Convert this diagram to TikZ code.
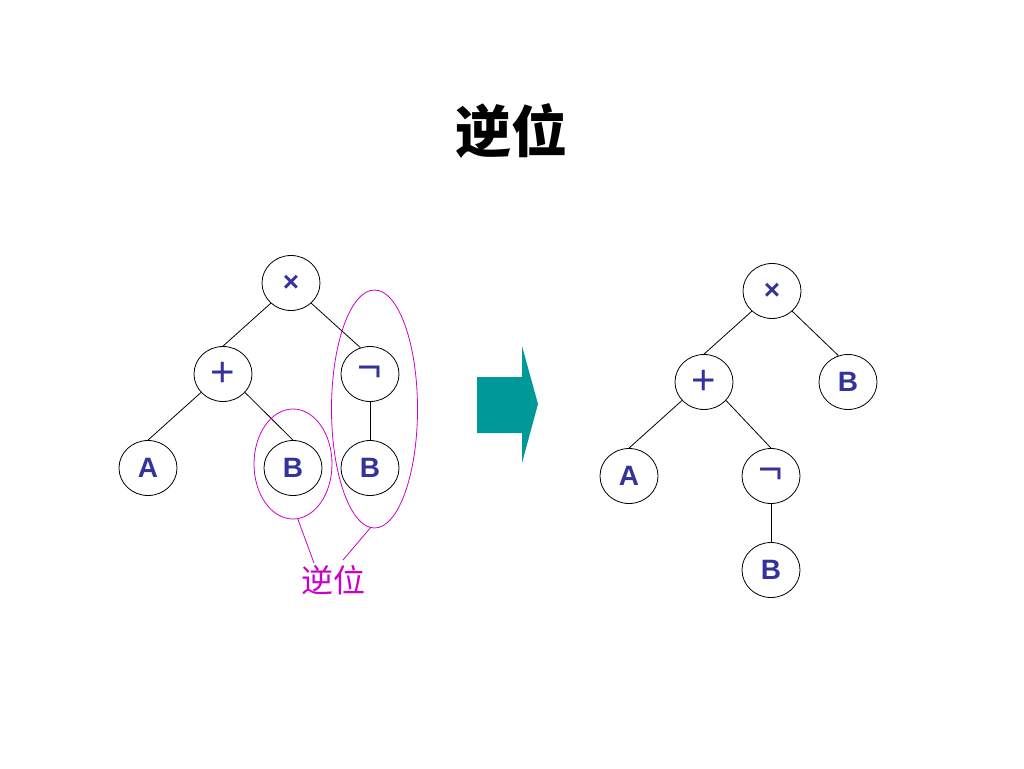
\documentclass[tikz,border=0pt]{standalone}
\usepackage{fontspec}
\usepackage{tikz}
\usetikzlibrary{shapes.geometric}
\setmainfont{Liberation Sans}
\newfontfamily\cjk{Noto Sans CJK SC}
\definecolor{navy}{RGB}{51,51,153}
\definecolor{arrowteal}{RGB}{0,153,153}
\definecolor{ringmag}{RGB}{204,0,204}

\begin{document}
\begin{tikzpicture}[x=1pt,y=-1pt,line width=0.8pt,
	leaf/.style={draw,ellipse,minimum width=58pt,minimum height=55pt,inner sep=0pt,text=navy,font=\bfseries\fontsize{28}{28}\selectfont},
	op/.style={leaf,font=\fontsize{42}{42}\selectfont},
	ring/.style={draw=ringmag,ellipse,inner sep=0pt}]
	\useasboundingbox (0,0) rectangle (1024,768);
	%Titulo
	\node (title) at (511,131) {\cjk\bfseries\fontsize{56}{60}\selectfont 逆位};

	%Arvore original
	\node[leaf] (lmul) at (291,283) {×};
	\node[op] (lplus) at (223,374) {+};
	\node[op] (lnot) at (370,374) {¬};
	\node[leaf] (la) at (148,468) {A};
	\node[leaf] (lb) at (293,468) {B};
	\node[leaf] (lnb) at (370,468) {B};
	\draw (lmul.225) -- (lplus.north);
	\draw (lmul.-45) -- (lnot.110);
	\draw (lplus.220) -- (la.north);
	\draw (lplus.-40) -- (lb.north);
	\draw (lnot) -- (lnb);

	%Marcas do inverso
	\node[ring,minimum width=78pt,minimum height=110pt] (ringb) at (293,464) {};
	\node[ring,minimum width=86pt,minimum height=238pt] (ringnb) at (374.5,409) {};
	\node[text=ringmag,font=\cjk\fontsize{32}{34}\selectfont] (lbl) at (333,580) {逆位};
	\coordinate (tipb) at (314,563);
	\coordinate (tipnb) at (343,560);
	\draw[ringmag] (ringb.-85) -- (tipb);
	\draw[ringmag] (ringnb.-92) -- (tipnb);

	%Seta
	\fill[arrowteal] (477,377) -- (522,377) -- (522,346) -- (538,404) -- (522,463) -- (522,433) -- (477,433) -- cycle;

	%Arvore invertida
	\node[leaf] (rmul) at (772,291) {×};
	\node[op] (rplus) at (704,382) {+};
	\node[leaf] (rb) at (848,382) {B};
	\node[leaf] (ra) at (629,476) {A};
	\node[op] (rnot) at (771,476) {¬};
	\node[leaf] (rnb) at (771,570) {B};
	\draw (rmul.225) -- (rplus.north);
	\draw (rmul.-45) -- (rb.110);
	\draw (rplus.220) -- (ra.north);
	\draw (rplus.-40) -- (rnot.north);
	\draw (rnot) -- (rnb);
\end{tikzpicture}
\end{document}
